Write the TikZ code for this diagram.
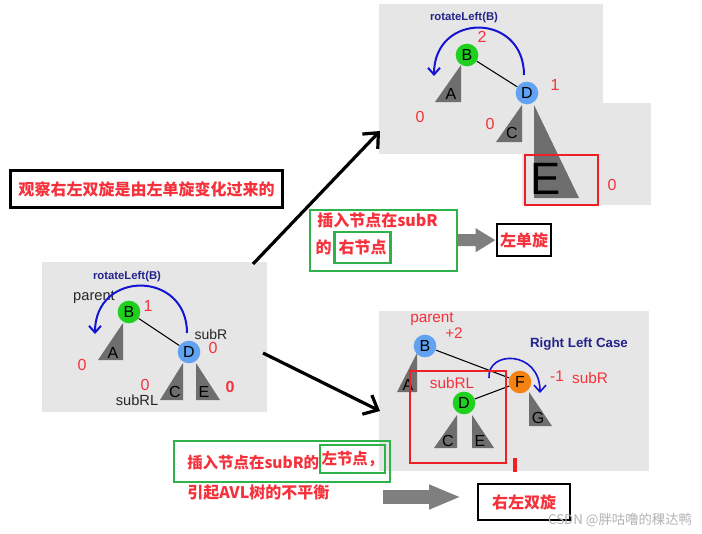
\documentclass[tikz,border=0pt]{standalone}
\usepackage{fontspec}
\setmainfont{Liberation Sans}
\newfontfamily\cjk{Noto Sans CJK SC}
\usepackage{tikz}
\usetikzlibrary{arrows,arrows.meta,positioning}
\definecolor{panelgray}{HTML}{E6E6E6}
\definecolor{subgray}{HTML}{6E6E6E}
\definecolor{nodegreen}{HTML}{1FD01F}
\definecolor{nodeblue}{HTML}{62A2F2}
\definecolor{nodeorange}{HTML}{F58212}
\definecolor{bfred}{HTML}{F5323C}
\definecolor{boxred}{HTML}{EE2026}
\definecolor{boxgreen}{HTML}{2DB34A}
\definecolor{rotblue}{HTML}{1414D2}
\definecolor{navy}{HTML}{23238A}
\definecolor{blockgray}{HTML}{7F7F7F}

\begin{document}
\begin{tikzpicture}[
		x=0.75pt, y=-0.75pt,
		font=\normalfont,
		tnode/.style={
			circle,
			minimum size=17pt,
			inner sep=0pt,
			font=\fontsize{12}{12}\selectfont
		},
		sub/.style={fill=subgray},
		sublabel/.style={inner sep=0pt, font=\fontsize{12}{12}\selectfont},
		bf/.style={text=bfred, inner sep=0pt, font=\fontsize{12}{12}\selectfont},
		tag/.style={text=black!85, inner sep=0pt, font=\fontsize{11}{11}\selectfont},
		rtag/.style={text=bfred, inner sep=0pt, font=\fontsize{11.5}{12}\selectfont},
		rot/.style={rotblue, line width=1.5pt, -{Straight Barb[length=5pt,width=9pt]}},
		call/.style={text=navy, inner sep=0pt, font=\bfseries\fontsize{8.5}{9}\selectfont},
		note/.style={text=bfred, inner sep=0pt, font=\cjk\bfseries\fontsize{12}{14}\selectfont},
		frame/.style={draw=black, line width=2.2pt},
		gbox/.style={draw=boxgreen, line width=1.8pt},
		jump/.style={line width=2.4pt, -{Straight Barb[length=9pt,width=16pt]}},
		block/.style={blockgray, line width=9pt, -{Triangle[length=15pt,width=17pt]}}
		]
		\useasboundingbox (0,0) rectangle (702,533);
		
		% gray panels
		\fill[panelgray] (379,4) rectangle (603,154);
		\fill[panelgray] (522,103) rectangle (651,205);
		\fill[panelgray] (42,262) rectangle (267,412);
		\fill[panelgray] (379,311) rectangle (649,471);
		
		% left panel: before the rotation
		\fill[sub] (98,360) -- (123,360) -- (123,323) -- cycle;
		\fill[sub] (160,400) -- (183,400) -- (183,363) -- cycle;
		\fill[sub] (196,363) -- (196,400) -- (220,400) -- cycle;
		\node [tnode, fill=nodegreen] (lB) at (129,312) {B};
		\node [tnode, fill=nodeblue] (lD) at (189,352) {D};
		\draw [line width=0.8pt] (lB) -- (lD);
		\node [sublabel] (lA) at (113,353) {A};
		\node [sublabel] (lC) at (175,392) {C};
		\node [sublabel] (lE) at (204,392) {E};
		\node [bf] (lbfB) at (148,306) {1};
		\node [bf] (lbfD) at (213,348) {0};
		\node [bf] (lbfA) at (82,365) {0};
		\node [bf] (lbfC) at (145,385) {0};
		\node [bf, font=\bfseries\fontsize{12}{12}\selectfont] (lbfE) at (230,387) {0};
		\node [tag] (lparent) at (94,297) {parent};
		\node [tag, font=\fontsize{10.5}{10.5}\selectfont] (lsubR) at (211,334) {subR};
		\node [tag] (lsubRL) at (137,400) {subRL};
		\draw [rot] (187,333) .. controls (187,270) and (95,270) .. (95,334);
		\node [call] (lcall) at (127,277) {rotateLeft(B)};
		
		% top panel: after the left rotation
		\fill[sub] (435,102) -- (461,102) -- (461,65) -- cycle;
		\fill[sub] (496,142) -- (522,142) -- (522,105) -- cycle;
		\fill[sub] (534,105) -- (534,198) -- (579,198) -- cycle;
		\node [tnode, fill=nodegreen] (tB) at (467,55) {B};
		\node [tnode, fill=nodeblue] (tD) at (527,93) {D};
		\draw [line width=0.8pt] (tB) -- (tD);
		\node [sublabel] (tA) at (451,94) {A};
		\node [sublabel] (tC) at (512,133) {C};
		\node [inner sep=0pt, font=\fontsize{34}{34}\selectfont] (tE) at (546,179) {E};
		\node [bf] (tbfB) at (482,37) {2};
		\node [bf] (tbfD) at (555,85) {1};
		\node [bf] (tbfA) at (420,117) {0};
		\node [bf] (tbfC) at (490,124) {0};
		\node [bf] (tbfE) at (612,185) {0};
		\draw [rot] (524,75) .. controls (524,12) and (434,12) .. (434,76);
		\node [call] (tcall) at (464,18) {rotateLeft(B)};
		\draw [boxred, line width=2pt] (525,155) rectangle (598,205);
		
		% bottom panel: right left case
		\fill[sub] (397,392) -- (417,392) -- (417,353) -- cycle;
		\fill[sub] (434,448) -- (457,448) -- (457,415) -- cycle;
		\fill[sub] (472,415) -- (472,448) -- (494,448) -- cycle;
		\fill[sub] (529,392) -- (529,426) -- (552,426) -- cycle;
		\node [tnode, fill=nodeblue] (rB) at (425,346) {B};
		\node [tnode, fill=nodeorange] (rF) at (520,382) {F};
		\node [tnode, fill=nodegreen] (rD) at (464,403) {D};
		\draw [line width=0.8pt] (rB) -- (rF);
		\draw [line width=0.8pt] (rD) -- (rF);
		\node [sublabel] (rA) at (408,385) {A};
		\node [sublabel] (rC) at (448,441) {C};
		\node [sublabel] (rE) at (480,441) {E};
		\node [sublabel] (rG) at (538,418) {G};
		\node [rtag] (rparent) at (432,319) {parent};
		\node [rtag] (rbfB) at (454,333) {+2};
		\node [rtag] (rbfF) at (557,376) {-1};
		\node [rtag] (rsubR) at (590,378) {subR};
		\node [rtag] (rsubRL) at (452,383) {subRL};
		\node [call, font=\bfseries\fontsize{10}{10}\selectfont] (rcase) at (579,344) {Right Left Case};
		\draw [rot, line width=1.2pt] (489,378) .. controls (487,350) and (540,350) .. (540,393);
		\draw [boxred, line width=2pt] (410,371) rectangle (506,463);
		\draw [boxred, line width=2.5pt] (515,458) -- (515,472);
		
		% notes and arrows
		\node [frame, note, minimum width=204pt, minimum height=28pt] (obs) at (146.5,189)
		{观察右左双旋是由左单旋变化过来的};
		
		\coordinate (j0) at (253,264);
		\coordinate (j1) at (380,131);
		\coordinate (j2) at (263,353);
		\coordinate (j3) at (380,411);
		\draw [jump] (j0) -- (j1);
		\draw [jump] (j2) -- (j3);
		
		\node [gbox, minimum width=110pt, minimum height=45.75pt] (ins1) at (383.5,240.5) {};
		\node [note, anchor=west] (ins1a) at (317,220) {插入节点在subR};
		\node [note, gbox, inner sep=3pt, minimum height=23pt] (ins1c) at (362.5,247.5) {右节点};
		\node [note, left=1pt of ins1c] (ins1b) {的};
		\node [frame, note, minimum width=40.5pt, minimum height=24pt, inner sep=1pt] (single) at (524,240) {左单旋};
		\draw [block] (ins1) -- (single);
		
		\node [gbox, minimum width=162pt, minimum height=30.75pt] (ins2) at (282,461.5) {};
		\node [note, anchor=west, font=\cjk\bfseries\fontsize{11.6}{14}\selectfont] (ins2a) at (187,463) {插入节点在subR的};
		\node [note, gbox, inner sep=1pt, minimum width=45.75pt, minimum height=21pt, anchor=west, font=\cjk\bfseries\fontsize{11.6}{14}\selectfont] (ins2b) at (319,459) {左节点，};
		\node [note, anchor=west] (ins2c) at (187,493) {引起AVL树的不平衡};
		\coordinate (b0) at (383,497);
		\coordinate (b1) at (461,497);
		\draw [block, line width=10pt, -{Triangle[length=24pt,width=17pt]}] (b0) -- (b1);
		\node [frame, note, minimum width=69pt, minimum height=27pt] (double) at (524,502) {右左双旋};
		
		\node [text=black!30, inner sep=0pt, font=\cjk\fontsize{10}{10}\selectfont] (mark) at (620,520) {CSDN @胖咕噜的稞达鸭};
		
\end{tikzpicture}
\end{document}
